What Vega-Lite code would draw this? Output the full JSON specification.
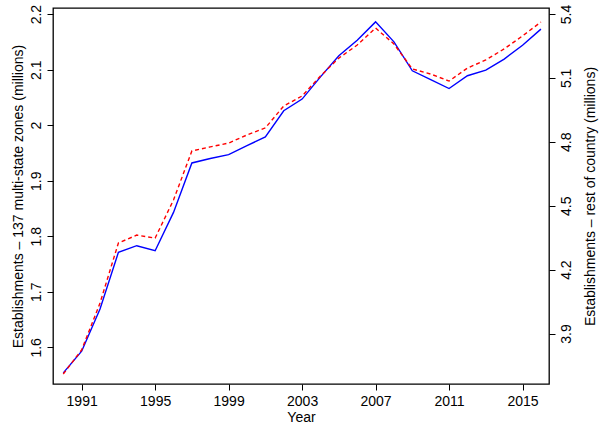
{
  "$schema": "https://vega.github.io/schema/vega-lite/v6.json",
  "width": 496,
  "height": 376,
  "autosize": {"type": "none"},
  "padding": {"left": 53, "top": 8, "right": 50, "bottom": 45},
  "config": {
    "font": "Liberation Sans",
    "view": {"stroke": "black", "strokeWidth": 1.3},
    "axis": {"grid": false, "domain": false, "labelFontSize": 14, "titleFontSize": 14, "titleFontWeight": "normal", "labelColor": "black", "titleColor": "black", "tickColor": "black", "tickSize": 6, "labelPadding": 4}
  },
  "data": {
    "values": [
      {"year": 1990, "zone": 1.554, "rest": 3.710},
      {"year": 1991, "zone": 1.593, "rest": 3.823},
      {"year": 1992, "zone": 1.669, "rest": 4.043},
      {"year": 1993, "zone": 1.771, "rest": 4.325},
      {"year": 1994, "zone": 1.783, "rest": 4.362},
      {"year": 1995, "zone": 1.774, "rest": 4.348},
      {"year": 1996, "zone": 1.843, "rest": 4.527},
      {"year": 1997, "zone": 1.932, "rest": 4.757},
      {"year": 1998, "zone": 1.940, "rest": 4.776},
      {"year": 1999, "zone": 1.947, "rest": 4.794},
      {"year": 2000, "zone": 1.963, "rest": 4.832},
      {"year": 2001, "zone": 1.979, "rest": 4.865},
      {"year": 2002, "zone": 2.026, "rest": 4.968},
      {"year": 2003, "zone": 2.047, "rest": 5.015},
      {"year": 2004, "zone": 2.087, "rest": 5.109},
      {"year": 2005, "zone": 2.125, "rest": 5.193},
      {"year": 2006, "zone": 2.153, "rest": 5.254},
      {"year": 2007, "zone": 2.186, "rest": 5.334},
      {"year": 2008, "zone": 2.150, "rest": 5.259},
      {"year": 2009, "zone": 2.098, "rest": 5.142},
      {"year": 2010, "zone": 2.082, "rest": 5.118},
      {"year": 2011, "zone": 2.066, "rest": 5.085},
      {"year": 2012, "zone": 2.089, "rest": 5.146},
      {"year": 2013, "zone": 2.099, "rest": 5.184},
      {"year": 2014, "zone": 2.119, "rest": 5.236},
      {"year": 2015, "zone": 2.144, "rest": 5.297},
      {"year": 2016, "zone": 2.173, "rest": 5.362}
    ]
  },
  "encoding": {
    "x": {"field": "year", "type": "quantitative", "title": "Year",
      "scale": {"domain": [1989.44, 2016.44], "nice": false, "zero": false},
      "axis": {"values": [1991, 1995, 1999, 2003, 2007, 2011, 2015], "format": "d", "titlePadding": 2}}
  },
  "layer": [
    {
      "mark": {"type": "line", "color": "blue", "strokeWidth": 1.4},
      "encoding": {
        "y": {"field": "zone", "type": "quantitative", "title": "Establishments – 137 multi-state zones (millions)",
          "scale": {"domain": [1.534, 2.211], "nice": false, "zero": false},
          "axis": {"values": [1.6, 1.7, 1.8, 1.9, 2.0, 2.1, 2.2], "format": "~g", "labelAngle": -90, "labelAlign": "center", "labelBaseline": "bottom", "titlePadding": 4}}
      }
    },
    {
      "mark": {"type": "line", "color": "red", "strokeWidth": 1.4, "strokeDash": [4, 3]},
      "encoding": {
        "y": {"field": "rest", "type": "quantitative", "title": "Establishments – rest of country (millions)",
          "scale": {"domain": [3.663, 5.428], "nice": false, "zero": false},
          "axis": {"orient": "right", "values": [3.9, 4.2, 4.5, 4.8, 5.1, 5.4], "format": ".1f", "labelAngle": -90, "labelAlign": "center", "labelBaseline": "top", "titleAngle": -90, "titleBaseline": "bottom", "titlePadding": 24}}
      }
    }
  ],
  "resolve": {"scale": {"y": "independent"}}
}
